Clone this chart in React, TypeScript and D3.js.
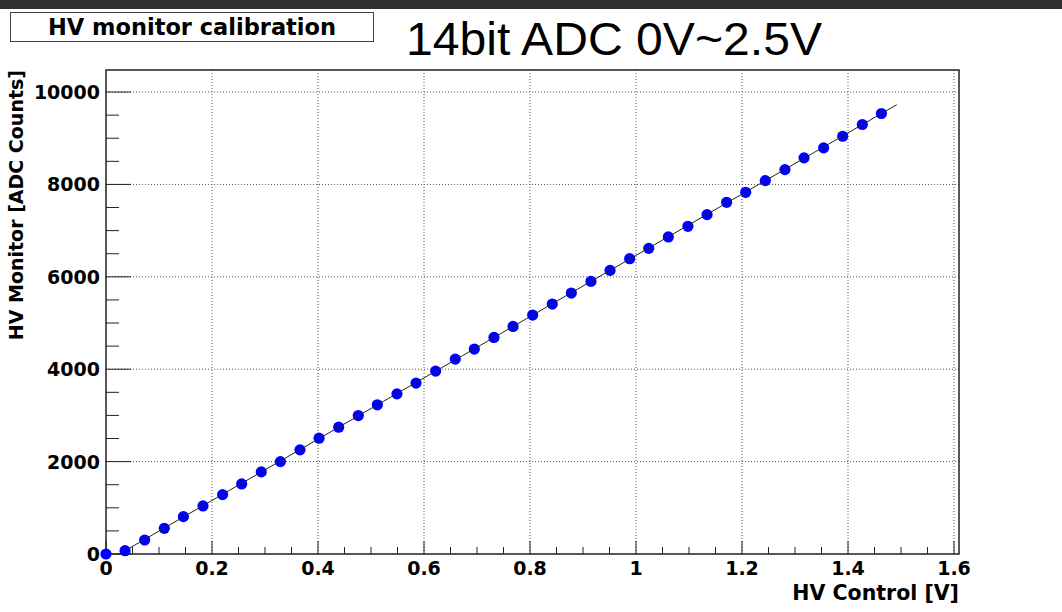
import React, { useEffect, useRef } from 'react';
import * as d3 from 'd3';

const hvControl = [
  0, 0.036, 0.073, 0.110, 0.146, 0.183, 0.220, 0.256, 0.293, 0.329, 0.366, 0.402, 0.439,
  0.476, 0.512, 0.549, 0.585, 0.622, 0.659, 0.695, 0.732, 0.768, 0.805, 0.842, 0.878,
  0.915, 0.951, 0.988, 1.024, 1.061, 1.098, 1.134, 1.171, 1.207, 1.244, 1.281, 1.317,
  1.354, 1.390, 1.427, 1.463,
];
const adcCounts = [
  0, 72, 303, 556, 809, 1040, 1286, 1517, 1777, 2000, 2254, 2507, 2745,
  2997, 3229, 3467, 3699, 3959, 4219, 4436, 4688, 4926, 5172, 5410, 5649,
  5901, 6139, 6393, 6616, 6863, 7093, 7346, 7613, 7829, 8083, 8321, 8575,
  8791, 9043, 9297, 9535,
];

// linear fit drawn over the points
const fitSlope = 6631;
const fitIntercept = -167;
const fitRange = [0.044, 1.492];

const xTicks = [0, 0.2, 0.4, 0.6, 0.8, 1, 1.2, 1.4, 1.6];
const xTickLabels = ['0', '0.2', '0.4', '0.6', '0.8', '1', '1.2', '1.4', '1.6'];
const yTicks = [0, 2000, 4000, 6000, 8000, 10000];
const yTickLabels = ['0', '2000', '4000', '6000', '8000', '10000'];

const padTitle = 'HV monitor calibration';
const mainTitle = '14bit ADC 0V~2.5V';
const xTitle = 'HV Control [V]';
const yTitle = 'HV Monitor [ADC Counts]';

function App() {
  const ref = useRef<SVGSVGElement>(null);

  useEffect(() => {
    const width = 1062;
    const height = 612;
    const frame = { left: 106, right: 959, top: 70, bottom: 554 };
    const boldFont = '"DejaVu Sans", sans-serif';

    const svg = d3.select(ref.current);
    svg.selectAll('*').remove();

    const x = d3.scaleLinear().domain([0, 1.6094]).range([frame.left, frame.right]);
    const y = d3.scaleLinear().domain([0, 10477]).range([frame.bottom, frame.top]);

    svg.append('rect').attr('width', width).attr('height', height).attr('fill', 'white');
    // dark strip along the top edge
    svg.append('rect').attr('width', width).attr('height', 9).attr('fill', '#303030');

    // grid
    svg.append('g')
      .selectAll('line')
      .data(xTicks.filter((d) => d > 0))
      .enter()
      .append('line')
      .attr('x1', (d) => x(d))
      .attr('x2', (d) => x(d))
      .attr('y1', frame.top)
      .attr('y2', frame.bottom)
      .attr('stroke', '#555')
      .attr('stroke-dasharray', '1 2');
    svg.append('g')
      .selectAll('line')
      .data(yTicks.filter((d) => d > 0))
      .enter()
      .append('line')
      .attr('x1', frame.left)
      .attr('x2', frame.right)
      .attr('y1', (d) => y(d))
      .attr('y2', (d) => y(d))
      .attr('stroke', '#555')
      .attr('stroke-dasharray', '1 2');

    // frame
    svg.append('rect')
      .attr('x', frame.left)
      .attr('y', frame.top)
      .attr('width', frame.right - frame.left)
      .attr('height', frame.bottom - frame.top)
      .attr('fill', 'none')
      .attr('stroke', '#222')
      .attr('stroke-width', 1.5);

    // ticks, drawn inward
    const xMinor = d3.range(0, 1.6001, 0.05);
    svg.append('g')
      .selectAll('line')
      .data(xMinor)
      .enter()
      .append('line')
      .attr('x1', (d) => x(d))
      .attr('x2', (d) => x(d))
      .attr('y1', frame.bottom)
      .attr('y2', (d, i) => frame.bottom - (i % 4 === 0 ? 13 : 7))
      .attr('stroke', '#222');
    const yMinor = d3.range(0, 10001, 500);
    svg.append('g')
      .selectAll('line')
      .data(yMinor)
      .enter()
      .append('line')
      .attr('x1', frame.left)
      .attr('x2', (d, i) => frame.left + (i % 4 === 0 ? 25 : 13))
      .attr('y1', (d) => y(d))
      .attr('y2', (d) => y(d))
      .attr('stroke', '#222');

    // tick labels
    svg.append('g')
      .selectAll('text')
      .data(xTicks)
      .enter()
      .append('text')
      .attr('x', (d) => x(d))
      .attr('y', 575)
      .attr('text-anchor', 'middle')
      .attr('font-family', boldFont)
      .attr('font-weight', 'bold')
      .attr('font-size', 19)
      .text((d, i) => xTickLabels[i]);
    svg.append('g')
      .selectAll('text')
      .data(yTicks)
      .enter()
      .append('text')
      .attr('x', 100)
      .attr('y', (d) => y(d) + 7)
      .attr('text-anchor', 'end')
      .attr('font-family', boldFont)
      .attr('font-weight', 'bold')
      .attr('font-size', 19)
      .text((d, i) => yTickLabels[i]);

    // axis titles
    svg.append('text')
      .attr('x', frame.right)
      .attr('y', 600)
      .attr('text-anchor', 'end')
      .attr('font-family', boldFont)
      .attr('font-weight', 'bold')
      .attr('font-size', 20.5)
      .text(xTitle);
    svg.append('text')
      .attr('transform', `translate(23,${frame.top}) rotate(-90)`)
      .attr('text-anchor', 'end')
      .attr('font-family', boldFont)
      .attr('font-weight', 'bold')
      .attr('font-size', 19)
      .text(yTitle);

    // data points
    svg.append('g')
      .selectAll('circle')
      .data(hvControl)
      .enter()
      .append('circle')
      .attr('cx', (d) => x(d))
      .attr('cy', (d, i) => y(adcCounts[i]))
      .attr('r', 5.6)
      .attr('fill', '#0000ff');

    // fit line
    const line = d3.line<number>()
      .x((d) => x(d))
      .y((d) => y(fitIntercept + fitSlope * d));
    svg.append('path')
      .attr('d', line(fitRange))
      .attr('fill', 'none')
      .attr('stroke', '#222')
      .attr('stroke-width', 1);

    // pad title box
    svg.append('rect')
      .attr('x', 10.5)
      .attr('y', 12.5)
      .attr('width', 363)
      .attr('height', 29)
      .attr('fill', 'white')
      .attr('stroke', '#444')
      .attr('stroke-width', 1);
    svg.append('text')
      .attr('x', 192)
      .attr('y', 35)
      .attr('text-anchor', 'middle')
      .attr('font-family', boldFont)
      .attr('font-weight', 'bold')
      .attr('font-size', 22.5)
      .text(padTitle);

    svg.append('text')
      .attr('x', 406)
      .attr('y', 55)
      .attr('font-family', '"Liberation Sans", Arial, sans-serif')
      .attr('font-size', 47)
      .attr('textLength', 416)
      .attr('lengthAdjust', 'spacingAndGlyphs')
      .text(mainTitle);
  }, []);

  return (
    <svg
      ref={ref}
      width={1062}
      height={612}
      style={{ position: 'absolute', left: 0, top: 0, display: 'block' }}
    />
  );
}

export default App;
